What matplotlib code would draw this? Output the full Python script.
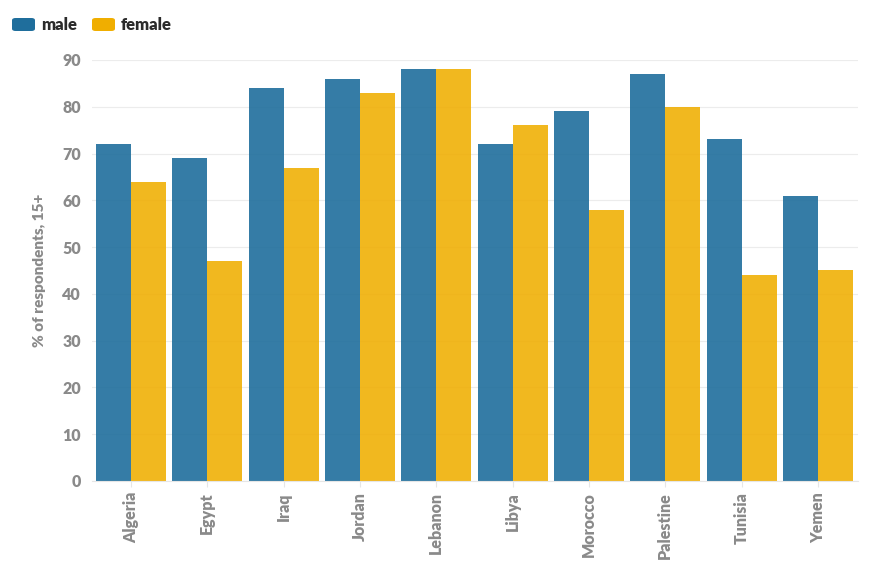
import matplotlib
matplotlib.use('Agg')
import matplotlib.pyplot as plt
from matplotlib.patches import FancyBboxPatch
import numpy as np

countries = ['Algeria', 'Egypt', 'Iraq', 'Jordan', 'Lebanon', 'Libya',
             'Morocco', 'Palestine', 'Tunisia', 'Yemen']
male = [72, 69, 84, 86, 88, 72, 79, 87, 73, 61]
female = [64, 47, 67, 83, 88, 76, 58, 80, 44, 45]

plt.rcParams['font.family'] = ['Lato', 'DejaVu Sans']

c_male = '#1f6e9c'
c_female = '#f0ae00'
grey = '#8a8a8a'

fig = plt.figure(figsize=(8.79, 5.75), dpi=100)
ax = fig.add_axes([0.1047, 0.1635, 0.871, 0.7322])

x = np.arange(len(countries))
w = 0.458
ax.bar(x - w / 2, male, width=w, color=c_male, alpha=0.9, linewidth=0)
ax.bar(x + w / 2, female, width=w, color=c_female, alpha=0.88, linewidth=0)

ax.set_xlim(-0.51, 9.52)
ax.set_ylim(0, 90)
ax.set_yticks(range(0, 91, 10))
ax.grid(axis='y', color='#ececec', linewidth=0.8)
ax.set_axisbelow(True)
for s in ['top', 'right', 'left']:
    ax.spines[s].set_visible(False)
ax.spines['bottom'].set_color('#e6e6e6')
ax.tick_params(axis='y', length=0, pad=8, labelsize=11.5, labelcolor=grey)
ax.tick_params(axis='x', length=4, color='#e6e6e6', pad=4, labelsize=11.5, labelcolor=grey)
ax.set_xticks(x)
ax.set_xticklabels(countries, rotation=90, fontweight='heavy')
for lbl in ax.get_yticklabels():
    lbl.set_fontweight('heavy')
ax.set_ylabel('% of respondents, 15+', fontsize=11, color=grey, fontweight='heavy', labelpad=12)

# legend
for lab, col, x0 in [('male', c_male, 12), ('female', c_female, 92)]:
    p = FancyBboxPatch((x0 / 879, 1 - 31 / 575), 23 / 879, 13 / 575,
                       boxstyle='round,pad=0,rounding_size=0.004',
                       transform=fig.transFigure, color=col, linewidth=0)
    fig.patches.append(p)
    fig.text((x0 + 29) / 879, 1 - 24.5 / 575, lab, fontsize=12, fontweight='heavy',
             color='#2b2b2b', va='center', ha='left')

fig.savefig('out.png', dpi=100)
